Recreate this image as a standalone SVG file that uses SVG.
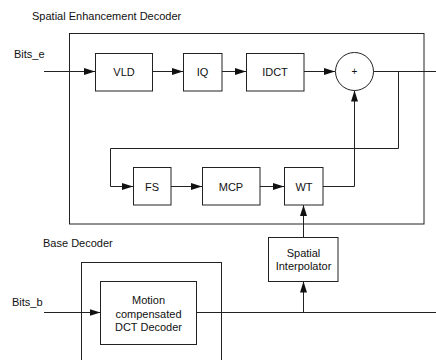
<svg xmlns="http://www.w3.org/2000/svg" width="436" height="360" viewBox="0 0 436 360">
<style>
.box{fill:#fff;stroke:#222;stroke-width:1}
.frame{fill:none;stroke:#222;stroke-width:1}
.ln{fill:none;stroke:#222;stroke-width:1}
.t{font-family:"Liberation Sans",Arial,sans-serif;font-size:11px;fill:#111}
.c{text-anchor:middle}
</style>
<defs>
<marker id="ah" markerUnits="userSpaceOnUse" markerWidth="12" markerHeight="8" refX="11" refY="4" orient="auto">
<path d="M0,0.5 L11,4 L0,7.5 Z" fill="#111"/>
</marker>
</defs>
<rect width="436" height="360" fill="#fff"/>
<g id="enh-frame">
<rect class="frame" x="69.5" y="33.5" width="354.5" height="190.5"/>
<text class="t" x="32" y="20">Spatial Enhancement Decoder</text>
</g>
<g id="base-frame">
<rect class="frame" x="81.5" y="262.5" width="140" height="120"/>
<text class="t" x="43" y="247">Base Decoder</text>
</g>
<g id="connectors">
<line class="ln" x1="44" y1="71.5" x2="95" y2="71.5" marker-end="url(#ah)"/>
<line class="ln" x1="152" y1="71.5" x2="183" y2="71.5" marker-end="url(#ah)"/>
<line class="ln" x1="222" y1="71.5" x2="246" y2="71.5" marker-end="url(#ah)"/>
<line class="ln" x1="304" y1="71.5" x2="335" y2="71.5" marker-end="url(#ah)"/>
<line class="ln" x1="373" y1="71.5" x2="436" y2="71.5"/>
<polyline class="ln" points="398.5,71.5 398.5,148.5 110.5,148.5 110.5,186.5 133,186.5" marker-end="url(#ah)"/>
<line class="ln" x1="171" y1="186.5" x2="202" y2="186.5" marker-end="url(#ah)"/>
<line class="ln" x1="260" y1="186.5" x2="284" y2="186.5" marker-end="url(#ah)"/>
<polyline class="ln" points="323,186.5 354.5,186.5 354.5,90.5" marker-end="url(#ah)"/>
<line class="ln" x1="303.5" y1="237" x2="303.5" y2="205" marker-end="url(#ah)"/>
<line class="ln" x1="44" y1="312.5" x2="100.5" y2="312.5" marker-end="url(#ah)"/>
<line class="ln" x1="196.5" y1="312.5" x2="436" y2="312.5"/>
<line class="ln" x1="303.5" y1="312.5" x2="303.5" y2="281.5" marker-end="url(#ah)"/>
<text class="t" x="14" y="58">Bits_e</text>
<text class="t" x="12" y="306">Bits_b</text>
</g>
<g id="vld"><rect class="box" x="95.5" y="53.5" width="57" height="37.5"/><text class="t c" x="124" y="76">VLD</text></g>
<g id="iq"><rect class="box" x="183.5" y="53.5" width="38.5" height="37.5"/><text class="t c" x="202.5" y="76">IQ</text></g>
<g id="idct"><rect class="box" x="246.5" y="53.5" width="57.5" height="37.5"/><text class="t c" x="275" y="76">IDCT</text></g>
<g id="sum"><circle class="box" cx="354.5" cy="71.5" r="19"/><text class="t c" x="354.5" y="75" style="font-size:10px">+</text></g>
<g id="fs"><rect class="box" x="133.5" y="167.5" width="37.5" height="37.5"/><text class="t c" x="152" y="190.5">FS</text></g>
<g id="mcp"><rect class="box" x="202.5" y="167.5" width="57.5" height="37.5"/><text class="t c" x="231" y="190.5">MCP</text></g>
<g id="wt"><rect class="box" x="284.5" y="167.5" width="38.5" height="37.5"/><text class="t c" x="304" y="190.5">WT</text></g>
<g id="interp"><rect class="box" x="268.5" y="237.5" width="69.5" height="44"/><text class="t c" x="303.5" y="257">Spatial</text><text class="t c" x="303.5" y="269.5">Interpolator</text></g>
<g id="mcdct"><rect class="box" x="100.5" y="281.5" width="96" height="63"/><text class="t c" x="148.5" y="304">Motion</text><text class="t c" x="148.5" y="317.5">compensated</text><text class="t c" x="148.5" y="331">DCT Decoder</text></g>
</svg>
